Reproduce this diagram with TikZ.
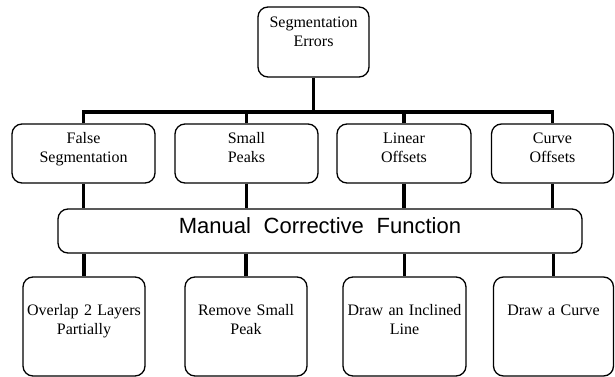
\documentclass[tikz,border=0pt]{standalone}
\usepackage{fontspec}
\setmainfont{Liberation Serif}
\newfontfamily\arialfont{Liberation Sans}
\usetikzlibrary{positioning}

\begin{document}
\begin{tikzpicture}[x=1pt, y=-1pt,
    errbox/.style={draw, line width=1.3pt, rounded corners=10pt, inner xsep=2pt, inner ysep=0pt, align=center, font=\fontsize{16}{19}\selectfont},
    link/.style={line width=3.6pt}]
        \useasboundingbox (0,0) rectangle (615,377);

        % Root node
            \node[errbox, text width=107pt, text height=21pt, text depth=49pt] (root) at (313.5, 42) {Segmentation\\Errors};

            % Error types
            \node[errbox, text width=139pt, text height=19pt, text depth=40pt] (false) at (83.5, 153.5) {False\\Segmentation};
            \node[errbox, text width=139pt, text height=19pt, text depth=40pt] (small) at (246.5, 153.5) {Small\\Peaks};
            \node[errbox, text width=130pt, text height=19pt, text depth=40pt] (linear) at (404, 153.5) {Linear\\Offsets};
            \node[errbox, text width=118pt, text height=19pt, text depth=40pt] (curve) at (552.5, 153.5) {Curve\\Offsets};

            % Corrective function bar
            \node[draw, line width=1.3pt, rounded corners=10pt, inner ysep=0pt, minimum width=524pt, text height=24pt, text depth=20pt, font=\arialfont\fontsize{22}{26}\selectfont] (manual) at (320, 231) {Manual\hspace{0.3em} Corrective\hspace{0.3em} Function};

            % Corrections
            \node[errbox, text width=118pt, text height=38pt, text depth=61pt] (overlap) at (84, 326.5) {Overlap 2 Layers\\Partially};
            \node[errbox, text width=118pt, text height=38pt, text depth=61pt] (remove) at (246, 326.5) {Remove Small\\Peak};
            \node[errbox, text width=119pt, text height=38pt, text depth=61pt] (incline) at (404.5, 326.5) {Draw an Inclined\\Line};
            \node[errbox, text width=116pt, text height=38pt, text depth=61pt] (drawcurve) at (553.5, 326.5) {Draw a Curve};

            % Connections: root to error types
            \coordinate (bar) at (313.5, 112);
            \draw[link] (root.south) -- (bar);
            \draw[link] (false.north) -- (false.north |- bar) -- (curve.north |- bar) -- (curve.north);
            \draw[link] (small.north) -- (small.north |- bar);
            \draw[link] (linear.north) -- (linear.north |- bar);

            % Connections: through the corrective function
            \foreach \up/\down in {false/overlap, small/remove, linear/incline, curve/drawcurve} {
                \draw[link] (\up.south) -- (\up.south |- manual.north);
                \draw[link] (\down.north |- manual.south) -- (\down.north);
            }
    \end{tikzpicture}
\end{document}
